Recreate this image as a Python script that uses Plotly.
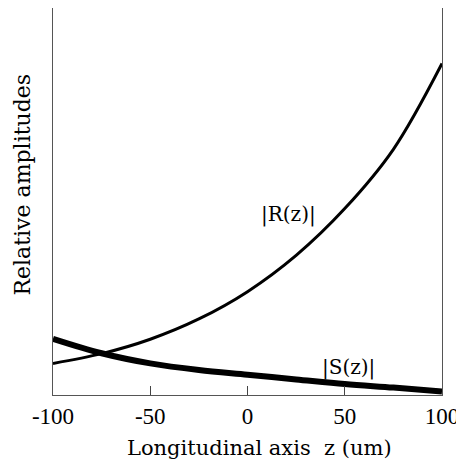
import plotly.graph_objects as go

z = [-100, -75, -50, -25, 0, 25, 50, 75, 100]
R_amp = [0.081, 0.106, 0.143, 0.195, 0.265, 0.358, 0.478, 0.630, 0.850]
S_amp = [0.144, 0.107, 0.081, 0.064, 0.052, 0.040, 0.028, 0.019, 0.009]

x_ticks = [-100, -50, 0, 50, 100]
x_ticktext = ["-100", "-50", "0", "50", "100"]

TICKFONT = "Liberation Serif, Times New Roman, serif"
TEXTFONT = "DejaVu Serif, serif"

fig = go.Figure()
fig.add_trace(go.Scatter(x=z, y=R_amp, mode="lines",
                         line=dict(color="black", width=3, shape="spline", smoothing=1.0),
                         showlegend=False))
fig.add_trace(go.Scatter(x=z, y=S_amp, mode="lines",
                         line=dict(color="black", width=6, shape="spline", smoothing=1.0),
                         showlegend=False))

fig.add_annotation(x=21, y=0.464, text="|R(z)|", showarrow=False,
                   font=dict(family=TEXTFONT, size=20, color="black"))
fig.add_annotation(x=52, y=0.070, text="|S(z)|", showarrow=False,
                   font=dict(family=TEXTFONT, size=20, color="black"))

fig.add_annotation(xref="paper", yref="paper", x=0.532, y=-0.137, yanchor="middle", xanchor="center",
                   text="Longitudinal axis\u00a0\u00a0z (um)", showarrow=False,
                   font=dict(family=TEXTFONT, size=21, color="black"))
fig.add_annotation(xref="paper", yref="paper", x=-0.078, y=0.543, textangle=-90,
                   xanchor="center", yanchor="middle",
                   text="Relative amplitudes", showarrow=False,
                   font=dict(family=TEXTFONT, size=22, color="black"))

fig.update_layout(
    width=456, height=467,
    margin=dict(l=45, r=22, t=0, b=80),
    plot_bgcolor="white", paper_bgcolor="white",
    xaxis=dict(range=[-100, 100], tickvals=x_ticks, ticktext=x_ticktext, ticks="inside", ticklen=9,
               tickcolor="#444", showgrid=False, zeroline=False, showline=True, linecolor="#555",
               linewidth=1, mirror=True, tickfont=dict(family=TICKFONT, size=23, color="black")),
    yaxis=dict(range=[0, 0.9923], showticklabels=False, ticks="", showgrid=False, zeroline=False,
               showline=True, linecolor="#555", linewidth=1, mirror=True),
)

fig.write_html("out.html")
